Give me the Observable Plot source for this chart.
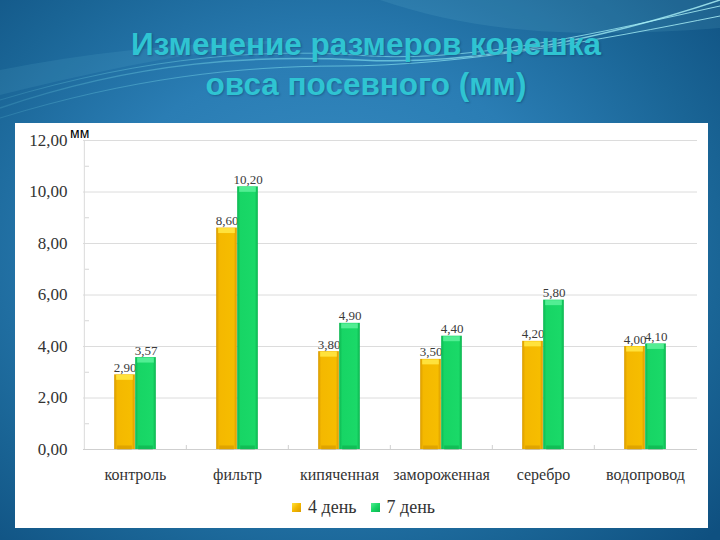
<!DOCTYPE html>
<html>
<head>
<meta charset="utf-8">
<script src="https://cdn.jsdelivr.net/npm/d3@7"></script>
<script src="https://cdn.jsdelivr.net/npm/@observablehq/plot@0.6"></script>
<style>
  html, body { margin: 0; padding: 0; }
  body { width: 720px; height: 540px; overflow: hidden; }
  #slide {
    position: relative; width: 720px; height: 540px; overflow: hidden;
    background: radial-gradient(ellipse 520px 420px at 330px 250px, #3a8ec4 0%, #2a7db4 45%, #1a6596 75%, #0f5080 100%);
  }
  #deco { position: absolute; left: 0; top: 0; }
  #title {
    position: absolute; left: 6px; top: 24px; width: 720px; text-align: center;
    font-family: "Liberation Sans", Arial, sans-serif; font-weight: bold;
    font-size: 31.5px; line-height: 40px; color: #2fc4d2;
    text-shadow: 1px 1px 2px rgba(0,40,80,0.35);
  }
  #panel {
    position: absolute; left: 15px; top: 123px; width: 693px; height: 405px; background: #ffffff;
  }
  #chart { position: absolute; left: 0; top: 0; }
  #unit {
    position: absolute; left: 55px; top: 2px;
    font-family: "Liberation Sans", Arial, sans-serif; font-size: 14px; color: #000;
  }
  #legend {
    position: absolute; left: 277px; top: 374px; display: flex; align-items: center;
    font-family: "Liberation Serif", "DejaVu Serif", serif; font-size: 18px; color: #333;
  }
  #legend .sw { width: 9px; height: 9px; display: inline-block; margin-right: 7px; }
  #legend .item { display: flex; align-items: center; margin-right: 14px; }
</style>
</head>
<body>
<div id="slide">
  <svg id="deco" width="720" height="540">
    <defs>
      <linearGradient id="swoosh" x1="0" x2="1" y1="0" y2="0">
        <stop offset="0" stop-color="#7fe6f0" stop-opacity="0.15"/>
        <stop offset="0.5" stop-color="#8ff0f8" stop-opacity="0.55"/>
        <stop offset="1" stop-color="#b8fbff" stop-opacity="0.8"/>
      </linearGradient>
    </defs>
    <path d="M0,108 C140,60 260,55 360,60 C470,66 600,40 720,0" fill="none" stroke="url(#swoosh)" stroke-width="1.5"/>
    <path d="M0,100 C150,55 270,48 370,56 C480,62 610,30 720,6" fill="none" stroke="url(#swoosh)" stroke-width="1"/>
    <path d="M0,118 C130,78 240,66 340,66 C460,66 600,40 720,16" fill="none" stroke="url(#swoosh)" stroke-width="1"/>
    <path d="M380,0 C470,30 560,40 720,28 L720,0 Z" fill="#8fe0ee" fill-opacity="0.10"/>
    <path d="M0,70 C100,50 200,42 300,40 C200,50 100,70 0,95 Z" fill="#7fd8ea" fill-opacity="0.10"/>
  </svg>
  <div id="title">Изменение размеров корешка<br>овса посевного (мм)</div>
  <div id="panel">
    <div id="chart"></div>
    <div id="unit">мм</div>
    <div id="legend"></div>
  </div>
</div>
<script>
// ---- data ----
const categories = ["контроль", "фильтр", "кипяченная", "замороженная", "серебро", "водопровод"];
const seriesNames = ["4 день", "7 день"];
const day4 = [2.90, 8.60, 3.80, 3.50, 4.20, 4.00];
const day7 = [3.57, 10.20, 4.90, 4.40, 5.80, 4.10];
const yTicks = [0, 2, 4, 6, 8, 10, 12];
const yMinorTicks = [1, 3, 5, 7, 9, 11];
const unitLabel = "мм";

// ---- layout ----
const W = 693, H = 370, mL = 68, mR = 11, mT = 17, mB = 44;
const plotW = W - mL - mR, plotH = H - mT - mB;
const bw = plotW / categories.length;
const barW = 21;
const serif = "'Liberation Serif', 'DejaVu Serif', serif";
const fmt = v => d3.format(".2f")(v).replace(".", ",");

const rows4 = categories.map((c, i) => ({cat: c, v: day4[i]}));
const rows7 = categories.map((c, i) => ({cat: c, v: day7[i]}));

const colors = {
  "4 день": {fill: "url(#gOrange)", top: "#ffe23c", bottom: "#c98d00"},
  "7 день": {fill: "url(#gGreen)", top: "#52ee93", bottom: "#09a446"}
};

function seriesMarks(rows, name, side) {
  const c = colors[name];
  const inL = side < 0 ? bw / 2 - barW : bw / 2;
  const inR = side < 0 ? bw / 2 : bw / 2 - barW;
  return [
    Plot.barY(rows, {x: "cat", y: "v", fill: c.fill, insetLeft: inL, insetRight: inR}),
    Plot.tickY(rows, {x: "cat", y: "v", stroke: c.top, strokeWidth: 5, dy: 2.5, insetLeft: inL + 2, insetRight: inR + 2}),
    Plot.tickY(rows, {x: "cat", y: 0, stroke: c.bottom, strokeWidth: 4, strokeOpacity: 0.5, dy: -2, insetLeft: inL + 3, insetRight: inR + 3}),
    Plot.text(rows, {x: "cat", y: "v", text: d => fmt(d.v), dx: side * barW / 2, dy: -3,
      lineAnchor: "bottom", fontSize: 13, fontFamily: serif, fill: "#3a3a3a"})
  ];
}

const chart = Plot.plot({
  width: W, height: H,
  marginLeft: mL, marginRight: mR, marginTop: mT, marginBottom: mB,
  style: {background: "transparent", color: "#333", fontFamily: serif},
  x: {domain: categories, padding: 0, axis: null, label: null},
  y: {domain: [0, 12], axis: null, label: null},
  marks: [
    Plot.ruleY(yTicks, {stroke: "#dcdcdc", strokeWidth: 1}),
    Plot.ruleY([0], {stroke: "#cfcfcf", strokeWidth: 1}),
    Plot.ruleY(yMinorTicks, {stroke: "#d6d6d6", insetLeft: 2, insetRight: plotW - 6}),
    Plot.ruleX([categories[0]], {dx: -bw / 2, stroke: "#dadada"}),
    Plot.ruleX(categories.slice(1), {dx: -bw / 2, stroke: "#d0d0d0", insetTop: plotH - 4}),
    Plot.axisY({ticks: yTicks, tickSize: 0, tickPadding: 16, tickFormat: fmt, fontSize: 17, fontFamily: serif, fill: "#333", label: null}),
    Plot.axisX({tickSize: 0, tickPadding: 19, fontSize: 16, fontFamily: serif, fill: "#333", label: null}),
    ...seriesMarks(rows4, seriesNames[0], -1),
    ...seriesMarks(rows7, seriesNames[1], 1)
  ]
});

// gradient definitions for bar shading
const defs = d3.select(chart).insert("defs", ":first-child");
function grad(id, stops) {
  const g = defs.append("linearGradient").attr("id", id).attr("x1", 0).attr("x2", 1).attr("y1", 0).attr("y2", 0);
  stops.forEach(([o, c]) => g.append("stop").attr("offset", o).attr("stop-color", c));
}
grad("gOrange", [[0, "#d99b00"], [0.15, "#f4b800"], [0.85, "#f6bd00"], [1, "#d89a00"]]);
grad("gGreen", [[0, "#0cb651"], [0.15, "#17d565"], [0.85, "#1ad968"], [1, "#0bb44f"]]);
document.getElementById("chart").appendChild(chart);

document.getElementById("unit").textContent = unitLabel;

// legend
const legend = d3.select("#legend");
const swatchBg = {"4 день": "linear-gradient(135deg, #ffe23c 0%, #f4b800 50%, #d99b00 100%)",
                  "7 день": "linear-gradient(135deg, #52ee93 0%, #17d565 50%, #0bb44f 100%)"};
seriesNames.forEach(n => {
  const it = legend.append("div").attr("class", "item");
  it.append("span").attr("class", "sw").style("background", swatchBg[n]);
  it.append("span").text(n);
});
</script>
</body>
</html>
